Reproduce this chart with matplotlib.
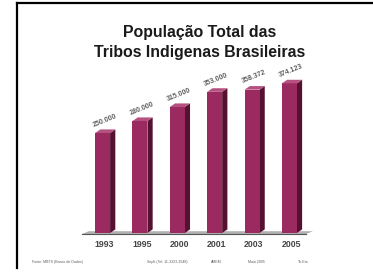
import matplotlib
matplotlib.use("Agg")
import matplotlib.pyplot as plt
from matplotlib.patches import Polygon
from matplotlib.lines import Line2D

years = ["1993", "1995", "2000", "2001", "2003", "2005"]
population = [250000, 280000, 315000, 353000, 358372, 374123]
value_labels = ["250.000", "280.000", "315.000", "353.000", "358.372", "374.123"]
title_lines = ["População Total das", "Tribos Indigenas Brasileiras"]
footer = [
    (0.085, "Fonte: MBTS (Banco de Dados)"),
    (0.395, "Seplt (Tel: 11-3323-3548)"),
    (0.565, "AMEM"),
    (0.665, "Maio 2005"),
    (0.80, "Th-Em"),
]

front = "#9b2a60"
side = "#55112f"
top = "#b5517f"
width = 0.4
dx, dy = 0.14, 9000

fig = plt.figure(figsize=(3.73, 2.73), dpi=100)
fig.patch.set_facecolor("white")

# frame (only top and left edges show)
fig.add_artist(Line2D([0.045, 0.045], [0.02, 0.99], color="black", lw=1.6,
                      transform=fig.transFigure))
fig.add_artist(Line2D([0.045, 1.0], [0.99, 0.99], color="black", lw=1.6,
                      transform=fig.transFigure))

ax = fig.add_axes([0.22, 0.1465, 0.619, 0.586])
ax.set_xlim(-0.55, 5.63)
ax.set_ylim(0, 400000)
ax.axis("off")

xs = list(range(len(years)))

# floor
ax.add_patch(Polygon([(-0.55, -2500), (5.45, -2500), (5.63, 4500), (-0.37, 4500)],
                     closed=True, facecolor="#b0b0b0", edgecolor="none",
                     clip_on=False, zorder=1))
ax.plot([-0.55, 5.45], [-2500, -2500], color="#555555", lw=0.8,
        clip_on=False, zorder=1)

ax.bar(xs, population, width=width, color=front, zorder=3)
for x, h in zip(xs, population):
    x0, x1 = x - width / 2, x + width / 2
    ax.add_patch(Polygon([(x1, 0), (x1, h), (x1 + dx, h + dy), (x1 + dx, dy)],
                         closed=True, facecolor=side, edgecolor="none", zorder=2))
    ax.add_patch(Polygon([(x0, h), (x1, h), (x1 + dx, h + dy), (x0 + dx, h + dy)],
                         closed=True, facecolor=top, edgecolor="none", zorder=3))

for x, h, lab in zip(xs, population, value_labels):
    ax.text(x - 0.3, h + 11000, lab, rotation=22, fontsize=5,
            fontweight="bold", color="#606060", ha="left", va="bottom",
            family="Liberation Sans")

for x, yr in zip(xs, years):
    ax.text(x + 0.05, -17000, yr, fontsize=6.3, fontweight="bold",
            color="#454545", ha="center", va="top", family="Liberation Sans")

for yf, line in zip([1 - 32 / 273, 1 - 52 / 273], title_lines):
    fig.text(0.535, yf, line, ha="center", va="center", fontsize=11.4,
             fontweight="bold", color="#1a1a1a", family="Liberation Sans")

for fx, txt in footer:
    fig.text(fx, 0.04, txt, fontsize=2.6, color="#606060", ha="left",
             va="center", family="Liberation Sans")

fig.savefig("out.png", dpi=100)
